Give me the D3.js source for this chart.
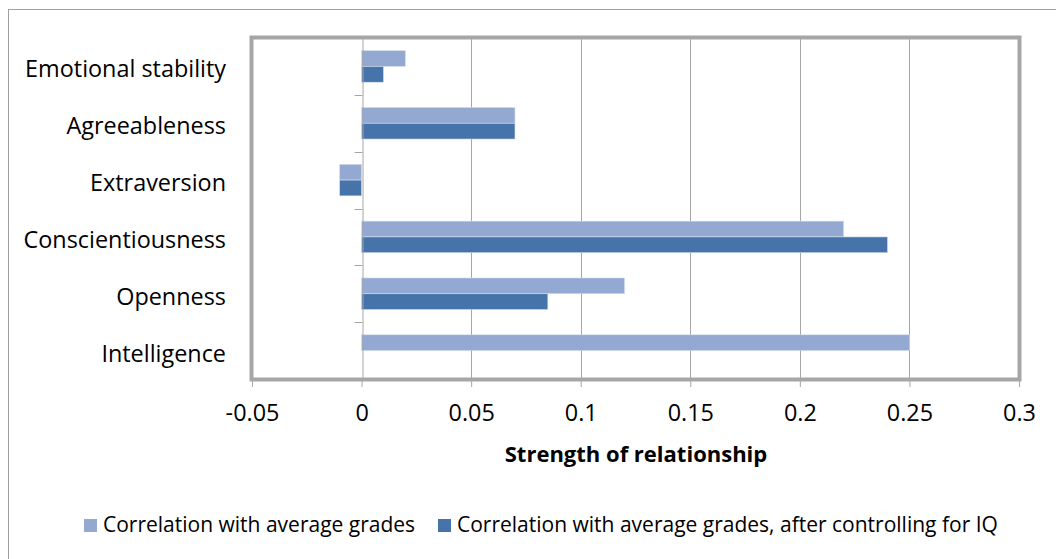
<!DOCTYPE html>
<html>
<head>
<meta charset="utf-8">
<script src="https://cdn.jsdelivr.net/npm/d3@7"></script>
<style>
  body { margin: 0; background: #fff; }
  text { font-family: "Open Sans", sans-serif; fill: #000; }
</style>
</head>
<body>
<svg id="chart"></svg>
<script>
// categories, top to bottom as shown
let categories = ['Emotional stability', 'Agreeableness', 'Extraversion', 'Conscientiousness', 'Openness', 'Intelligence']
let seriesNames = ['Correlation with average grades', 'Correlation with average grades, after controlling for IQ']
let gradeCorr = [0.02, 0.07, -0.01, 0.22, 0.12, 0.25]
let iqControlled = [0.01, 0.07, -0.01, 0.24, 0.085, 0]
let xTicks = [-0.05, 0, 0.05, 0.1, 0.15, 0.2, 0.25, 0.3]
let colors = ['#94a9d2', '#4673a9']

let width = 1056
let height = 559
let plot = {left: 252, right: 1019, top: 38, bottom: 379}

let svg = d3.select('#chart').attr('width', width).attr('height', height)

// outer chart frame (right/bottom edges fall outside the picture)
svg.append('rect')
    .attr('x', 8.5).attr('y', 9.5)
    .attr('width', width + 10).attr('height', height + 10)
    .attr('fill', 'none').attr('stroke', '#a0a0a0').attr('stroke-width', 1)

let xScale = d3.scaleLinear()
    .domain([-0.05, 0.3])
    .range([plot.left, plot.right])

let yScale = d3.scaleBand()
    .domain(categories)
    .range([plot.top, plot.bottom])

let subScale = d3.scaleBand()
    .domain([0, 1])
    .range([0, yScale.bandwidth()])
    .paddingOuter(0.8)

// vertical gridlines
svg.append('g')
    .selectAll('line')
    .data(xTicks.filter(d => d > 0 && d < 0.3))
    .enter()
    .append('line')
    .attr('x1', d => Math.round(xScale(d)) + 0.5)
    .attr('x2', d => Math.round(xScale(d)) + 0.5)
    .attr('y1', plot.top)
    .attr('y2', plot.bottom)
    .attr('stroke', '#a6a6a6')
    .attr('stroke-width', 1)

// bars
let rows = categories.map((c, i) => ({cat: c, vals: [gradeCorr[i], iqControlled[i]]}))
let groups = svg.append('g')
    .selectAll('g')
    .data(rows)
    .enter()
    .append('g')
    .attr('transform', d => 'translate(0,' + yScale(d.cat) + ')')

groups.selectAll('rect')
    .data(d => d.vals.map((v, s) => ({v: v, s: s})))
    .enter()
    .append('rect')
    .attr('x', d => xScale(Math.min(0, d.v)))
    .attr('width', d => Math.abs(xScale(d.v) - xScale(0)))
    .attr('y', d => subScale(d.s))
    .attr('height', subScale.bandwidth())
    .attr('fill', d => colors[d.s])
    .attr('stroke', d => d.v === 0 ? 'none' : '#d6deee')
    .attr('stroke-width', 0.6)

// category axis at zero
let yAxis = d3.axisLeft(yScale).tickSize(0).tickFormat('')
let yAxisG = svg.append('g')
    .attr('transform', 'translate(' + (Math.round(xScale(0)) + 0.5) + ',0)')
    .call(yAxis)
yAxisG.select('.domain').attr('stroke', '#a6a6a6')
yAxisG.selectAll('.boundary')
    .data(categories.slice(1))
    .enter()
    .append('line')
    .attr('class', 'boundary')
    .attr('x1', -8).attr('x2', 0)
    .attr('y1', d => Math.round(yScale(d)) + 0.5)
    .attr('y2', d => Math.round(yScale(d)) + 0.5)
    .attr('stroke', '#a6a6a6')

// category labels
svg.append('g')
    .selectAll('text')
    .data(categories)
    .enter()
    .append('text')
    .attr('x', 226)
    .attr('y', d => yScale(d) + yScale.bandwidth() / 2 + 11)
    .attr('text-anchor', 'end')
    .style('font-size', '23.4px')
    .text(d => d)

// value axis
let xAxis = d3.axisBottom(xScale)
    .tickValues(xTicks)
    .tickSize(8)
    .tickPadding(17)
    .tickFormat(d => String(+d.toFixed(2)))
let xAxisG = svg.append('g')
    .attr('transform', 'translate(0,' + plot.bottom + ')')
    .call(xAxis)
xAxisG.select('.domain').remove()
xAxisG.selectAll('.tick line').attr('stroke', '#a6a6a6')
xAxisG.selectAll('.tick text')
    .style('font-size', '23.4px')
    .style('font-family', '"Open Sans", sans-serif')
    .attr('fill', '#000')

// plot area border
svg.append('rect')
    .attr('x', plot.left - 0.5).attr('y', plot.top - 0.5)
    .attr('width', plot.right - plot.left + 1).attr('height', plot.bottom - plot.top + 1)
    .attr('fill', 'none').attr('stroke', '#a6a6a6').attr('stroke-width', 4)

// axis title
svg.append('text')
    .attr('x', 636)
    .attr('y', 462)
    .attr('text-anchor', 'middle')
    .style('font-size', '22px')
    .style('font-weight', 'bold')
    .text('Strength of relationship')

// legend
let legendX = [84, 438]
let legend = svg.append('g')
    .selectAll('g')
    .data(seriesNames)
    .enter()
    .append('g')
    .attr('transform', (d, i) => 'translate(' + legendX[i] + ',519)')
legend.append('rect')
    .attr('width', 13).attr('height', 13)
    .attr('fill', (d, i) => colors[i])
legend.append('text')
    .attr('x', 19)
    .attr('y', 13)
    .style('font-size', '21px')
    .text(d => d)
</script>
</body>
</html>
